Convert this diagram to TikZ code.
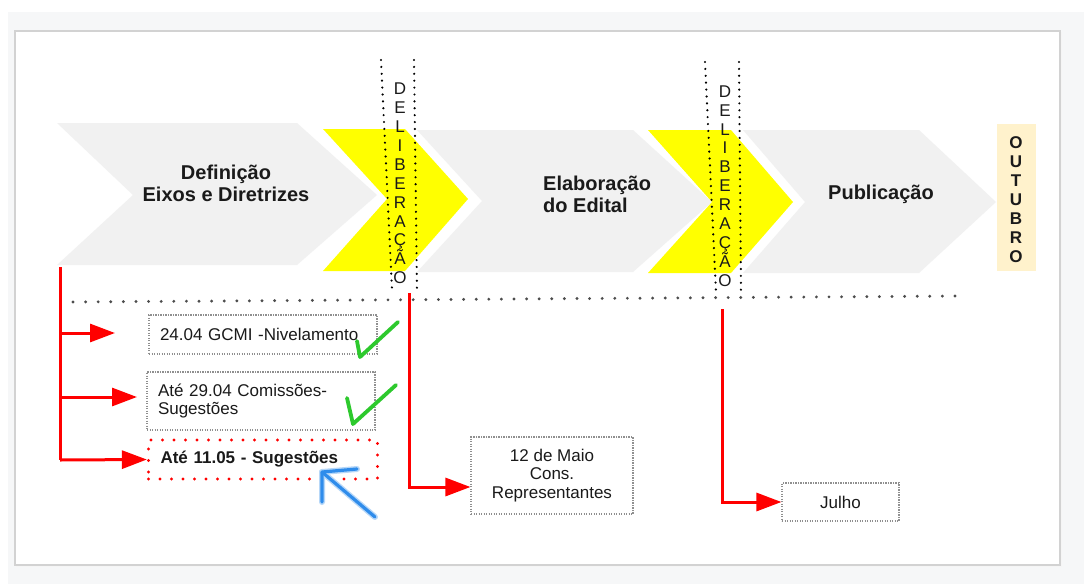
\documentclass[tikz,border=0pt]{standalone}
\usepackage{fontspec}
\setmainfont{Liberation Sans}
\usetikzlibrary{arrows.meta}
\definecolor{bggray}{HTML}{F6F7F8}
\definecolor{panelline}{HTML}{D2D2D2}
\definecolor{chev}{HTML}{F1F1F1}
\definecolor{yel}{HTML}{FFFF00}
\definecolor{beige}{HTML}{FFF2CC}
\definecolor{redc}{HTML}{FF0000}
\definecolor{txt}{HTML}{1A1A1A}
\definecolor{dotgray}{HTML}{8F8F8F}
\definecolor{sepgray}{HTML}{4D4D4D}
\definecolor{checkg}{HTML}{2DC92D}
\definecolor{bluea}{HTML}{2F8CEB}
\newcommand\nolsk{\lineskiplimit -40pt\relax}
\tikzset{
  chevron/.style={fill=chev},
  yellowchev/.style={fill=yel},
  title/.style={font={\fontsize{20}{22}\selectfont\bfseries}, text=txt, inner sep=0pt},
  delib/.style={font={\fontsize{17}{18.9}\selectfont\nolsk}, align=center, inner sep=0pt, text=txt},
  outtext/.style={font={\fontsize{17}{19}\selectfont\bfseries\nolsk}, align=center, inner sep=0pt, text=txt},
  dotbox/.style={draw=dotgray, line width=1.1pt, dash pattern=on 1.1pt off 1.4pt, font={\fontsize{17}{18.5}\selectfont}, text=txt, inner ysep=0pt},
  redbox/.style={draw=redc, line width=3.2pt, line cap=round, dash pattern=on 0pt off 11.5pt, font={\fontsize{17}{19}\selectfont\bfseries}, text=txt, inner ysep=0pt},
  redline/.style={draw=redc, line width=3pt},
  redarrow/.style={redline, -{Triangle[length=25pt,width=18pt]}},
  sepline/.style={draw=sepgray, line width=3.2pt, line cap=round, dash pattern=on 0pt off 12.6pt},
  vdots/.style={draw=black, line width=2.4pt, line cap=round, dash pattern=on 0pt off 6.9pt},
  checkmark/.style={draw=checkg, line width=3.8pt, line cap=round, line join=round},
  bluemark/.style={draw=bluea, line width=3.2pt, line cap=round, line join=round}
}
\begin{document}
\begin{tikzpicture}[x=1pt,y=-1pt]
% page and panel
\useasboundingbox (0,0) rectangle (1084,584);
\fill[white] (0,0) rectangle (1084,584);
\fill[bggray] (8,12) rectangle (1084,584);
\fill[black!4] (16,32) rectangle (1062,567);
\fill[white, draw=panelline, line width=1.5pt] (15,31) rectangle (1060,565);

% chevrons
\fill[chevron] (57,123) -- (297,123) -- (377,195) -- (297,265) -- (57,265) -- (133,195) -- cycle;
\fill[chevron] (417,130) -- (633,130) -- (712,202) -- (633,272) -- (417,272) -- (482,201) -- cycle;
\fill[chevron] (743,130) -- (919,130) -- (996,202) -- (919,273) -- (743,273) -- (805,202) -- cycle;
\fill[yellowchev] (323,129) -- (405,129) -- (468,199) -- (405,271) -- (323,271) -- (387,199) -- cycle;
\fill[yellowchev] (648,130) -- (731,130) -- (793,202) -- (731,273) -- (648,273) -- (712,202) -- cycle;

% titles
\node[title, align=center] (def) at (226,183) {Definição\\Eixos e Diretrizes};
\node[title, align=left, anchor=west] (ela) at (543,194) {Elaboração\\do Edital};
\node[title] (pub) at (881,194) {Publicação};

% OUTUBRO
\node[fill=beige, minimum width=39pt, minimum height=147pt, inner sep=0pt] (outbox) at (1016.5,197.5) {};
\node[outtext] (out) at (1016,200) {O\\U\\T\\U\\B\\R\\O};

% deliberação columns
\coordinate (d1a) at (381,60);  \coordinate (d1b) at (392,289);
\coordinate (d1c) at (414,60);  \coordinate (d1d) at (417,291);
\draw[vdots] (d1a) -- (d1b);
\draw[vdots] (d1c) -- (d1d);
\node[delib] (del1) at (400,183.5) {D\\E\\L\\I\\B\\E\\R\\A\\Ç\\Ã\\O};
\coordinate (d2a) at (705,62);  \coordinate (d2b) at (716,292);
\coordinate (d2c) at (739,62);  \coordinate (d2d) at (741,292);
\draw[vdots] (d2a) -- (d2b);
\draw[vdots] (d2c) -- (d2d);
\node[delib] (del2) at (725,186) {D\\E\\L\\I\\B\\E\\R\\A\\Ç\\Ã\\O};

% separator
\coordinate (sepL) at (73,302);
\coordinate (sepR) at (959,296);
\draw[sepline] (sepL) -- (sepR);

% boxes
\node[dotbox, minimum width=228pt, minimum height=39pt, text width=206pt, inner xsep=11pt, align=left] (niv) at (263,334.5) {24.04 GCMI -Nivelamento};
\node[dotbox, minimum width=228pt, minimum height=58pt, text width=206pt, inner xsep=11pt, align=left] (com) at (261,401) {Até 29.04 Comissões-\\Sugestões};
\node[redbox, minimum width=229pt, minimum height=39pt, text width=205pt, inner xsep=12pt, align=left] (sug) at (263,459.5) {Até 11.05 - Sugestões};
\node[dotbox, minimum width=162pt, minimum height=77pt, align=center] (maio) at (552,475.5) {12 de Maio\\Cons.\\Representantes};
\node[dotbox, minimum width=117pt, minimum height=38pt, align=center] (jul) at (840.5,502) {Julho};

% red connectors
\coordinate (r1top) at (60,267);
\coordinate (r1bot) at (60,460);
\coordinate (a1) at (115,333);
\coordinate (a2) at (137,397);
\draw[redline] (r1top) -- (r1bot);
\draw[redarrow] (r1top |- a1) -- (a1);
\draw[redarrow] (r1top |- a2) -- (a2);
\draw[redarrow] (r1bot) -- (sug.west);
\coordinate (r2top) at (409,293);
\draw[redarrow] (r2top) |- ([yshift=-11.5pt]maio.west);
\coordinate (r3top) at (722,309);
\draw[redarrow] (r3top) |- (jul.west);

% green checkmarks
\draw[checkmark] (357,341) -- (360,357) -- (398,322);
\draw[checkmark] (347,398) -- (353,424) -- (396,385);

% blue arrow mark
\draw[bluea!35, line width=6pt, line cap=round, line join=round] (357,469) -- (322,472) -- (322,502);
\draw[bluea!35, line width=6pt, line cap=round] (322,472) -- (375,517);
\draw[bluemark] (357,469) -- (322,472) -- (322,502);
\draw[bluemark] (322,472) -- (375,517);
\end{tikzpicture}
\end{document}
